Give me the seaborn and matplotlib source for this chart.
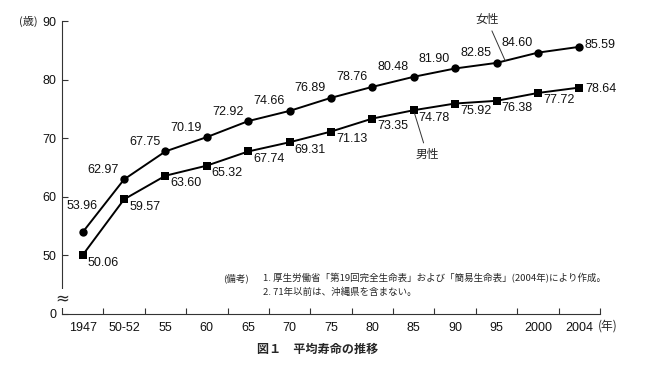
import numpy as np
import pandas as pd
import matplotlib
matplotlib.use('Agg')
import matplotlib.pyplot as plt
import seaborn as sns

# 平均寿命の推移 (歳)
years = ['1947', '50-52', '55', '60', '65', '70', '75', '80', '85', '90', '95', '2000', '2004']
female = [53.96, 62.97, 67.75, 70.19, 72.92, 74.66, 76.89, 78.76, 80.48, 81.90, 82.85, 84.60, 85.59]
male = [50.06, 59.57, 63.60, 65.32, 67.74, 69.31, 71.13, 73.35, 74.78, 75.92, 76.38, 77.72, 78.64]
ytick_vals = [40, 50, 60, 70, 80, 90]   # 40 stands in for the broken-axis 0
ytick_labels = ['0', '50', '60', '70', '80', '90']

notes = ['1. 厚生労働省「第19回完全生命表」および「簡易生命表」(2004年)により作成。',
         '2. 71年以前は、沖縄県を含まない。']
caption = '図１　平均寿命の推移'

sns.set_theme(style='white')
plt.rcParams['font.family'] = ['Liberation Sans', 'Noto Sans CJK JP', 'DejaVu Sans']
jp = ['Noto Sans CJK JP', 'DejaVu Sans']

pos = np.arange(len(years))
df = pd.DataFrame({'pos': np.concatenate([pos, pos]),
                   'age': female + male,
                   'sex': ['女性'] * len(years) + ['男性'] * len(years)})

fig = plt.figure(figsize=(6.5, 3.73), dpi=100)
ax = fig.add_axes([62 / 650, 1 - 314 / 373, 538 / 650, 293 / 373])

sns.lineplot(data=df, x='pos', y='age', style='sex', markers={'女性': 'o', '男性': 's'},
             dashes=False, color='black', linewidth=1.4, markersize=6,
             markeredgewidth=0, legend=False, ax=ax)

# value labels
for i, v in enumerate(female):
    if i == 0:
        off, ha = (-0.7, 19), 'center'
    elif i == len(female) - 1:
        off, ha = (3.6, 1.4), 'left'
    else:
        off, ha = (-3.6, 6.8), 'right'
    ax.annotate(f'{v:.2f}', (pos[i], v), xytext=off, textcoords='offset points',
                ha=ha, va='center', fontsize=9, color='#111')
for i, v in enumerate(male):
    if i == len(male) - 1:
        off = (4.3, -0.7)
    else:
        off = (3.6, -5.4)
    ax.annotate(f'{v:.2f}', (pos[i], v), xytext=off, textcoords='offset points',
                ha='left', va='center', fontsize=9, color='#111')

# series names with leader lines
ax.annotate('女性', xy=(10.21, 83.2), xytext=(9.77, 90.2), ha='center', va='center',
            fontsize=8.5, family=jp, annotation_clip=False,
            arrowprops=dict(arrowstyle='-', color='#333', lw=0.7, shrinkA=1, shrinkB=0))
ax.annotate('男性', xy=(8.02, 74.2), xytext=(8.32, 67.3), ha='center', va='center',
            fontsize=8.5, family=jp, annotation_clip=False,
            arrowprops=dict(arrowstyle='-', color='#333', lw=0.7, shrinkA=1, shrinkB=0))

# axes
ax.set_xlim(-0.5, len(years) - 0.5)
ax.set_ylim(40, 90)
ax.set_yticks(ytick_vals)
ax.set_yticklabels(ytick_labels)
ax.set_xticks(pos + 0.5)
ax.set_xticklabels([])
ax.set_xticks(pos, minor=True)
ax.set_xticklabels(years, minor=True)
ax.set_xlabel('')
ax.set_ylabel('')
ax.tick_params(axis='x', which='major', direction='in', length=4, width=0.8, color='#333',
               bottom=True)
ax.tick_params(axis='x', which='minor', length=0, pad=6, labelsize=9, labelcolor='#111')
ax.tick_params(axis='y', direction='in', length=4, width=0.8, color='#333',
               pad=4, labelsize=9, labelcolor='#111', left=True)
for s in ['top', 'right']:
    ax.spines[s].set_visible(False)
for s in ['left', 'bottom']:
    ax.spines[s].set_color('#333')
    ax.spines[s].set_linewidth(0.8)
ax.grid(False)

# broken-axis mark
ax.text(-0.5, 42.6, '≈', ha='center', va='center', fontsize=12, family=['DejaVu Sans'],
        clip_on=False, zorder=5,
        bbox=dict(facecolor='white', edgecolor='none', pad=0.2))

# unit labels
fig.text(28 / 650, 1 - 21 / 373, '(歳)', ha='center', va='center', fontsize=8, family=jp)
fig.text(608 / 650, 1 - 326 / 373, '(年)', ha='center', va='center', fontsize=8.5, family=jp)

# notes and caption
fig.text(223 / 650, 1 - 278 / 373, '(備考)', ha='left', va='center', fontsize=6.9, family=jp)
fig.text(263 / 650, 1 - 278 / 373, notes[0], ha='left', va='center', fontsize=6.8, family=jp)
fig.text(263 / 650, 1 - 292 / 373, notes[1], ha='left', va='center', fontsize=6.8, family=jp)
fig.text(257 / 650, 1 - 349 / 373, caption, ha='left', va='center', fontsize=8.7,
         fontweight='bold', family=jp)

fig.savefig('out.png', dpi=100)
